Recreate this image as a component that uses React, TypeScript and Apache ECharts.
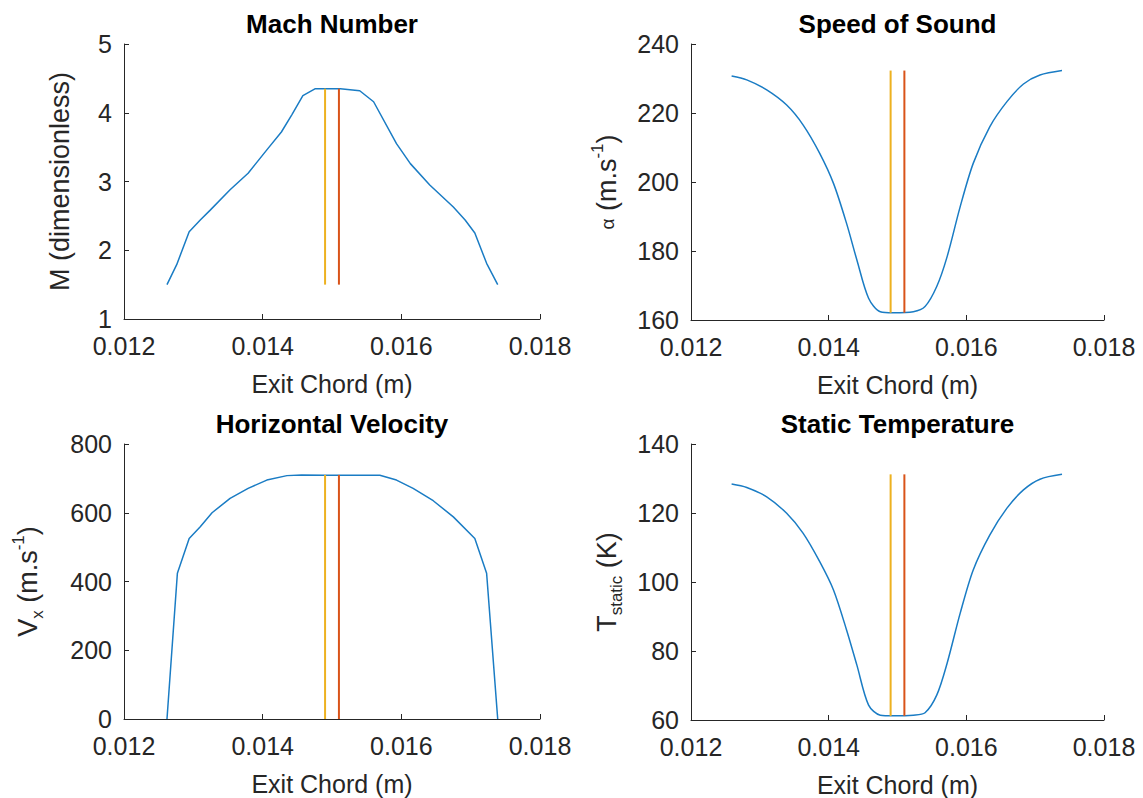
import React, { useEffect, useRef } from "react";
import * as echarts from "echarts";

// ---------- data ----------
const xTicks = [0.012, 0.014, 0.016, 0.018];
const markerLeftX = 0.0149;
const markerRightX = 0.0151;

const machData: [number, number][] = [
  [0.01262, 1.5], [0.01276, 1.79], [0.01294, 2.27], [0.0131, 2.44], [0.01324, 2.58],
  [0.01353, 2.88], [0.01379, 3.12], [0.01406, 3.46], [0.01427, 3.72], [0.01442, 3.97],
  [0.01458, 4.25], [0.01476, 4.35], [0.01512, 4.35], [0.0154, 4.32], [0.0156, 4.16],
  [0.01593, 3.55], [0.01613, 3.26], [0.01641, 2.95], [0.01675, 2.63], [0.01692, 2.44],
  [0.01706, 2.25], [0.01723, 1.81], [0.01739, 1.5],
];

const soundData: [number, number][] = [
  [0.01259, 230.7], [0.01281, 229.6], [0.0131, 226.7], [0.01339, 222.3], [0.01363, 216.5],
  [0.01387, 208.3], [0.01407, 199.6], [0.01426, 188.0], [0.01441, 177.4], [0.01458, 166.3],
  [0.01475, 162.4], [0.01494, 162.1], [0.01523, 162.4], [0.0154, 163.9], [0.01557, 169.7],
  [0.01572, 178.3], [0.01591, 192.8], [0.0161, 205.4], [0.01634, 216.0], [0.01659, 223.3],
  [0.01683, 228.4], [0.01707, 231.0], [0.01739, 232.3],
];

const velocityData: [number, number][] = [
  [0.01262, 0], [0.01277, 424], [0.01294, 525], [0.0131, 559], [0.01327, 600],
  [0.01353, 642], [0.01379, 671], [0.01406, 695], [0.01435, 708], [0.01456, 710],
  [0.0149, 709], [0.01569, 709], [0.01593, 695], [0.01617, 671], [0.01646, 635],
  [0.01675, 588], [0.01706, 525], [0.01723, 424], [0.01739, 0],
];

const temperatureData: [number, number][] = [
  [0.01259, 128.4], [0.01281, 127.4], [0.0131, 124.7], [0.01339, 119.9], [0.01363, 114.1],
  [0.01387, 105.9], [0.01407, 97.7], [0.01426, 86.1], [0.01441, 75.9], [0.01458, 64.3],
  [0.01475, 61.4], [0.01494, 61.2], [0.01523, 61.4], [0.0154, 62.1], [0.01557, 67.2],
  [0.01572, 76.4], [0.01591, 90.9], [0.0161, 103.5], [0.01634, 113.6], [0.01659, 121.4],
  [0.01683, 126.7], [0.01707, 129.8], [0.01739, 131.2],
];

const titles = ["Mach Number", "Speed of Sound", "Horizontal Velocity", "Static Temperature"];
const yNames = [
  "M (dimensionless)",
  "{a|α} (m.s{sup|-1})",
  "V{sub|x} (m.s{sup|-1})",
  "T{sub|static} (K)",
];
const yMins = [1, 160, 0, 60];
const yMaxs = [5, 240, 800, 140];
const yIntervals = [1, 20, 200, 20];
const xName = "Exit Chord (m)";

// ---------- layout / styles ----------
const FONT = '"Liberation Sans", Arial, Helvetica, sans-serif';
const AXIS_COLOR = "#262626";
const grids = [
  { left: 124, top: 44, width: 416, height: 275 },
  { left: 691, top: 44, width: 413, height: 276 },
  { left: 124, top: 444, width: 416, height: 275 },
  { left: 691, top: 444, width: 413, height: 276 },
];
const yNameGaps = [46, 66, 78, 66];
const smoothing = [0, 0.3, 0, 0.3];

const allData = [machData, soundData, velocityData, temperatureData];

export default function App() {
  const ref = useRef<HTMLDivElement>(null);
  useEffect(() => {
    if (!ref.current) return;
    const chart = echarts.init(ref.current, undefined, { renderer: "svg" });

    const xAxes = grids.map((_, i) => ({
      type: "value",
      gridIndex: i,
      min: xTicks[0],
      max: xTicks[xTicks.length - 1],
      interval: xTicks[1] - xTicks[0],
      name: xName,
      nameLocation: "middle",
      nameGap: 52,
      nameTextStyle: { fontFamily: FONT, fontSize: 25, color: AXIS_COLOR },
      axisLine: { show: true, lineStyle: { color: AXIS_COLOR, width: 1 } },
      axisTick: { show: true, inside: true, length: 5, lineStyle: { color: AXIS_COLOR } },
      splitLine: { show: false },
      axisLabel: {
        fontFamily: FONT,
        fontSize: 25,
        color: AXIS_COLOR,
        margin: 14,
        formatter: (v: number) => v.toFixed(3),
      },
    }));

    const richStyles = {
      a: { fontFamily: FONT, fontSize: 19, color: AXIS_COLOR, lineHeight: 19, verticalAlign: "middle" },
      sup: { fontFamily: FONT, fontSize: 17, color: AXIS_COLOR, lineHeight: 17, verticalAlign: "top" },
      sub: { fontFamily: FONT, fontSize: 17, color: AXIS_COLOR, lineHeight: 17, verticalAlign: "bottom" },
    };

    const yAxes = grids.map((_, i) => ({
      type: "value",
      gridIndex: i,
      min: yMins[i],
      max: yMaxs[i],
      interval: yIntervals[i],
      name: yNames[i],
      nameLocation: "middle",
      nameGap: yNameGaps[i],
      nameTextStyle: {
        fontFamily: FONT,
        fontSize: 27,
        color: AXIS_COLOR,
        lineHeight: 36,
        rich: richStyles,
      },
      axisLine: { show: true, lineStyle: { color: AXIS_COLOR, width: 1 } },
      axisTick: { show: true, inside: true, length: 5, lineStyle: { color: AXIS_COLOR } },
      splitLine: { show: false },
      axisLabel: { fontFamily: FONT, fontSize: 25, color: AXIS_COLOR, margin: 12 },
    }));

    const series: any[] = [];
    allData.forEach((d, i) => {
      const ys = d.map((p) => p[1]);
      const lo = Math.min(...ys);
      const hi = Math.max(...ys);
      series.push({
        type: "line",
        xAxisIndex: i,
        yAxisIndex: i,
        data: d,
        showSymbol: false,
        symbol: "none",
        smooth: smoothing[i],
        lineStyle: { color: "#1a7cc4", width: 1.5 },
        z: 2,
      });
      series.push({
        type: "line",
        xAxisIndex: i,
        yAxisIndex: i,
        data: [[markerLeftX, lo], [markerLeftX, hi]],
        showSymbol: false,
        symbol: "none",
        lineStyle: { color: "#EDB120", width: 2 },
        z: 3,
      });
      series.push({
        type: "line",
        xAxisIndex: i,
        yAxisIndex: i,
        data: [[markerRightX, lo], [markerRightX, hi]],
        showSymbol: false,
        symbol: "none",
        lineStyle: { color: "#D95319", width: 2 },
        z: 4,
      });
    });

    const graphic = grids.map((g, i) => ({
      type: "text",
      x: g.left + g.width / 2,
      y: g.top - 20,
      style: {
        text: titles[i],
        fontFamily: FONT,
        fontSize: 26,
        fontWeight: "bold",
        fill: "#000000",
        align: "center",
        verticalAlign: "middle",
      },
    }));

    chart.setOption({
      animation: false,
      backgroundColor: "#ffffff",
      grid: grids.map((g) => ({ ...g, containLabel: false })),
      xAxis: xAxes,
      yAxis: yAxes,
      series,
      graphic,
    });
    return () => chart.dispose();
  }, []);

  return (
    <div
      ref={ref}
      style={{ position: "fixed", left: 0, top: 0, width: 1143, height: 798, background: "#fff" }}
    />
  );
}
